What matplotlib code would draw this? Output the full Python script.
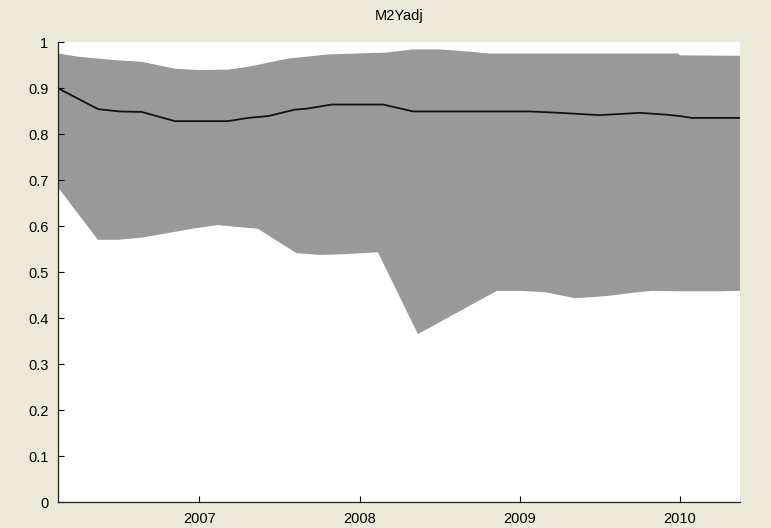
import numpy as np
import matplotlib
matplotlib.use("Agg")
import matplotlib.pyplot as plt

# band upper edge (decimal years, value)
upper_x = [2006.119, 2006.243, 2006.493, 2006.639, 2006.847, 2006.993, 2007.18, 2007.305,
           2007.554, 2007.804, 2008.169, 2008.335, 2008.491, 2008.689, 2008.803, 2009.989,
           2010.0, 2010.375]
upper_y = [0.975, 0.968, 0.960, 0.957, 0.942, 0.939, 0.940, 0.946,
           0.964, 0.973, 0.977, 0.984, 0.984, 0.979, 0.975, 0.975,
           0.971, 0.970]

# band lower edge
lower_x = [2006.117, 2006.366, 2006.491, 2006.647, 2006.972, 2007.115, 2007.265, 2007.365,
           2007.606, 2007.752, 2007.927, 2008.114, 2008.364, 2008.857, 2009.0, 2009.157,
           2009.219, 2009.344, 2009.438, 2009.55, 2009.737, 2009.831, 2010.0, 2010.25, 2010.375]
lower_y = [0.684, 0.570, 0.570, 0.575, 0.595, 0.602, 0.597, 0.594,
           0.541, 0.537, 0.539, 0.543, 0.365, 0.459, 0.459, 0.456,
           0.452, 0.443, 0.445, 0.448, 0.456, 0.459, 0.458, 0.458, 0.459]

# median line
mid_x = [2006.119, 2006.368, 2006.504, 2006.639, 2006.847, 2007.18, 2007.305, 2007.43,
         2007.596, 2007.669, 2007.825, 2008.147, 2008.335, 2009.063, 2009.25, 2009.5,
         2009.75, 2009.916, 2010.0, 2010.072, 2010.375]
mid_y = [0.899, 0.854, 0.849, 0.848, 0.828, 0.828, 0.835, 0.839,
         0.853, 0.855, 0.864, 0.864, 0.849, 0.849, 0.846, 0.841,
         0.846, 0.842, 0.839, 0.835, 0.835]

years = [2007, 2008, 2009, 2010]
yticks = [0, 0.1, 0.2, 0.3, 0.4, 0.5, 0.6, 0.7, 0.8, 0.9, 1]
ylabels = ["0", "0.1", "0.2", "0.3", "0.4", "0.5", "0.6", "0.7", "0.8", "0.9", "1"]

plt.rcParams['font.family'] = ['Liberation Sans', 'DejaVu Sans']

fig = plt.figure(figsize=(7.71, 5.28), dpi=100, facecolor='#ECE9D8')
ax = fig.add_axes([58/771, 1-502/528, (740-58)/771, (502-42)/528])
ax.set_facecolor('white')

ax.fill(np.r_[upper_x, lower_x[::-1]], np.r_[upper_y, lower_y[::-1]],
        color='#999999', lw=0)
ax.plot(mid_x, mid_y, color='#111111', lw=1.3)

ax.set_xlim(2006.117, 2010.375)
ax.set_ylim(0, 1)
ax.set_xticks(years)
ax.set_xticklabels([str(y) for y in years])
ax.set_yticks(yticks)
ax.set_yticklabels(ylabels)
ax.tick_params(direction='in', length=4.5, width=0.8, labelsize=10.5, pad=7,
               colors='black')
ax.spines['top'].set_visible(False)
ax.spines['right'].set_visible(False)
for s in ['left', 'bottom']:
    ax.spines[s].set_linewidth(0.9)
    ax.spines[s].set_color('#222222')

fig.text(399/771, 1-16/528, "M2Yadj", ha='center', va='center', fontsize=10.5)

fig.savefig("out.png", dpi=100, facecolor=fig.get_facecolor())
